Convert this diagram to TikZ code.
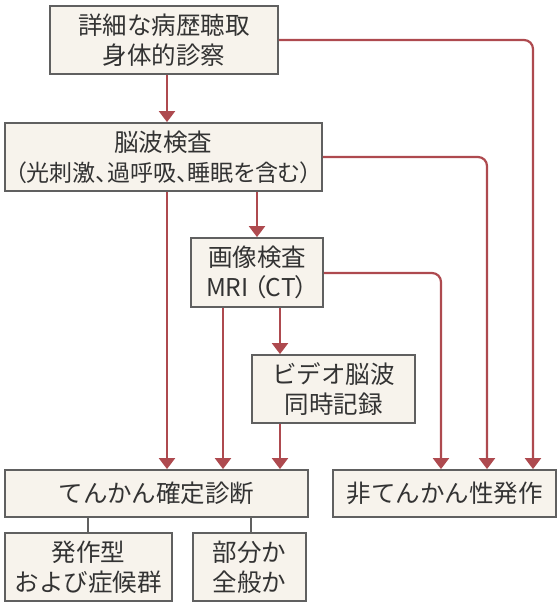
\documentclass[tikz,border=0pt]{standalone}
\usepackage{fontspec}
\usetikzlibrary{arrows.meta}
\newfontfamily\jp{Noto Sans CJK JP}
\newfontfamily\jpp[RawFeature=+palt]{Noto Sans CJK JP}
\definecolor{boxfill}{HTML}{F7F3EC}
\definecolor{boxline}{HTML}{606060}
\definecolor{arrred}{HTML}{AE4A4F}
\definecolor{txt}{HTML}{333333}
\begin{document}
\begin{tikzpicture}[x=1pt,y=-1pt,
  box/.style={draw=boxline, line width=1.8pt, fill=boxfill, inner sep=0pt,
    align=center, text=txt, font=\jp\fontsize{24.5}{30}\selectfont},
  arr/.style={draw=arrred, line width=2.2pt, rounded corners=9pt,
    -{Triangle[width=16pt,length=11pt]}},
  link/.style={draw=boxline, line width=1.8pt}]
\useasboundingbox (0,0) rectangle (558,606);
% column coordinates
\coordinate (xa) at (88,0);
\coordinate (xb) at (167,0);
\coordinate (xc) at (223,0);
\coordinate (xd) at (251,0);
\coordinate (xe) at (257,0);
\coordinate (xf) at (280,0);
\coordinate (xg) at (441,0);
\coordinate (xh) at (487,0);
\coordinate (xi) at (533,0);
\coordinate (ya) at (0,40);
\coordinate (yb) at (0,157);
\coordinate (yc) at (0,273);
% boxes
\node[box, minimum width=228pt, minimum height=68pt] (b1) at (164,40)
  {詳細な病歴聴取\\身体的診察};
\node[box, minimum width=317pt, minimum height=68pt] (b2) at (163.5,157)
  {脳波検査\\{\jpp\fontsize{23}{30}\selectfont （光刺激、過呼吸、睡眠を含む）}};
\node[box, minimum width=132pt, minimum height=69pt] (b3) at (257,272.5)
  {画像検査\\{\jpp MRI\kern5pt（CT）}};
\node[box, minimum width=163pt, minimum height=68pt] (b4) at (333.5,389)
  {ビデオ脳波\\同時記録};
\node[box, minimum width=303pt, minimum height=47pt] (b5) at (156.5,493.5)
  {てんかん確定診断};
\node[box, minimum width=223pt, minimum height=47pt] (b6) at (444.5,493.5)
  {非てんかん性発作};
\node[box, minimum width=167pt, minimum height=68pt] (b7) at (88.5,567)
  {発作型\\および症候群};
\node[box, minimum width=113pt, minimum height=68pt] (b8) at (249.5,567)
  {部分か\\全般か};
% connectors
\draw[arr] (b1.south -| xb) -- (b2.north -| xb);
\draw[arr] (b1.east |- ya) -| (b6.north -| xi);
\draw[arr] (b2.south -| xb) -- (b5.north -| xb);
\draw[arr] (b2.south -| xe) -- (b3.north -| xe);
\draw[arr] (b2.east |- yb) -| (b6.north -| xh);
\draw[arr] (b3.south -| xc) -- (b5.north -| xc);
\draw[arr] (b3.south -| xf) -- (b4.north -| xf);
\draw[arr] (b3.east |- yc) -| (b6.north -| xg);
\draw[arr] (b4.south -| xf) -- (b5.north -| xf);
\draw[link] (b5.south -| xa) -- (b7.north -| xa);
\draw[link] (b5.south -| xd) -- (b8.north -| xd);
\end{tikzpicture}
\end{document}
